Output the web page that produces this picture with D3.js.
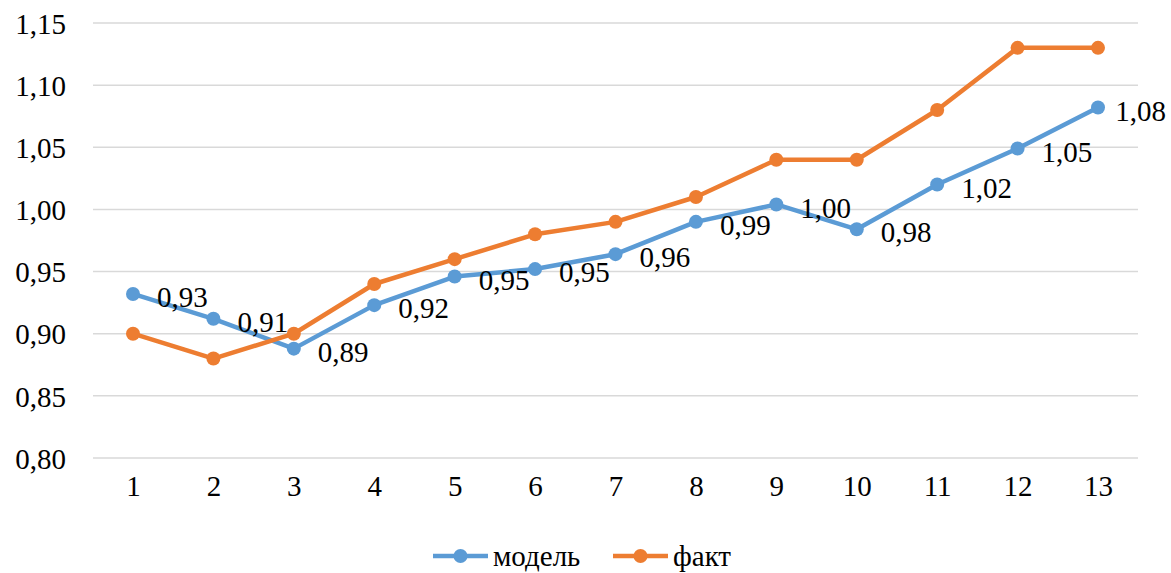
<!DOCTYPE html>
<html><head><meta charset="utf-8">
<script src="https://cdn.jsdelivr.net/npm/d3@7"></script>
<style>body{margin:0;background:#fff}svg{display:block}</style>
</head><body><svg id="c" width="1171" height="573"></svg>
<script>
const categories = [1,2,3,4,5,6,7,8,9,10,11,12,13];
const modelValues = [0.932,0.912,0.888,0.923,0.946,0.952,0.964,0.990,1.004,0.984,1.020,1.049,1.082];
const factValues = [0.90,0.88,0.90,0.94,0.96,0.98,0.99,1.01,1.04,1.04,1.08,1.13,1.13];
const yTicks = [0.80,0.85,0.90,0.95,1.00,1.05,1.10,1.15];
const seriesNames = ["модель","факт"];
const colors = ["#5B9BD5","#ED7D31"];

(function () {
const FONT = "'Liberation Serif', 'Times New Roman', 'DejaVu Serif', serif";
const svg = d3.select("#c");
const pLeft = 93, pRight = 1138, pTop = 23, pBottom = 458;
const fmt = v => d3.format(".2f")(v).replace(".", ",");
const x = d3.scalePoint().domain(categories).range([133, 1098]);
const y = d3.scaleLinear().domain([0.80, 1.15]).range([pBottom, pTop]);

svg.append("g").selectAll("line").data(yTicks).join("line")
  .attr("x1", pLeft).attr("x2", pRight)
  .attr("y1", d => y(d)).attr("y2", d => y(d))
  .attr("stroke", "#d9d9d9").attr("stroke-width", 1.5);

const yAxis = d3.axisLeft(y).tickValues(yTicks).tickFormat(fmt).tickSize(0).tickPadding(0);
const ya = svg.append("g").attr("transform", "translate(66,0)").call(yAxis);
ya.select(".domain").remove();
ya.attr("font-family", null).attr("font-size", null);
ya.selectAll("text").style("font-size", "29px").style("font-family", FONT).attr("fill", "#000").attr("dy", "0.35em");

const xAxis = d3.axisBottom(x).tickSize(0).tickPadding(0);
const xa = svg.append("g").attr("transform", `translate(0,${pBottom + 28})`).call(xAxis);
xa.select(".domain").remove();
xa.attr("font-family", null).attr("font-size", null);
xa.selectAll("text").style("font-size", "29px").style("font-family", FONT).attr("fill", "#000").attr("dy", "0.35em");

const line = d3.line().x((d, i) => x(categories[i])).y(d => y(d));
const series = [modelValues, factValues];
series.forEach((vals, s) => {
  svg.append("path").datum(vals).attr("d", line)
    .attr("fill", "none").attr("stroke", colors[s]).attr("stroke-width", 4.5)
    .attr("stroke-linejoin", "round");
  svg.append("g").selectAll("circle").data(vals).join("circle")
    .attr("cx", (d, i) => x(categories[i])).attr("cy", d => y(d))
    .attr("r", 7).attr("fill", colors[s]);
});

const labels = svg.append("g").selectAll("text").data(modelValues).join("text")
  .attr("x", (d, i) => x(categories[i]) + 24)
  .attr("y", d => y(d) + 3)
  .attr("dy", "0.35em")
  .style("font-size", "29px").style("font-family", FONT).attr("fill", "#000")
  .text(d => fmt(d));
labels.each(function () {
  const w = this.getComputedTextLength();
  const xx = +this.getAttribute("x");
  if (xx + w > 1166) this.setAttribute("x", 1166 - w);
});

const legend = [{x: 433, tx: 493}, {x: 613, tx: 673}];
legend.forEach((l, s) => {
  svg.append("line").attr("x1", l.x).attr("x2", l.x + 55).attr("y1", 556).attr("y2", 556)
    .attr("stroke", colors[s]).attr("stroke-width", 4.5);
  svg.append("circle").attr("cx", l.x + 27.5).attr("cy", 556).attr("r", 7).attr("fill", colors[s]);
  svg.append("text").attr("x", l.tx).attr("y", 556).attr("dy", "0.35em")
    .style("font-size", "29px").style("font-family", FONT).attr("fill", "#000").text(seriesNames[s]);
});
})();
</script></body></html>
